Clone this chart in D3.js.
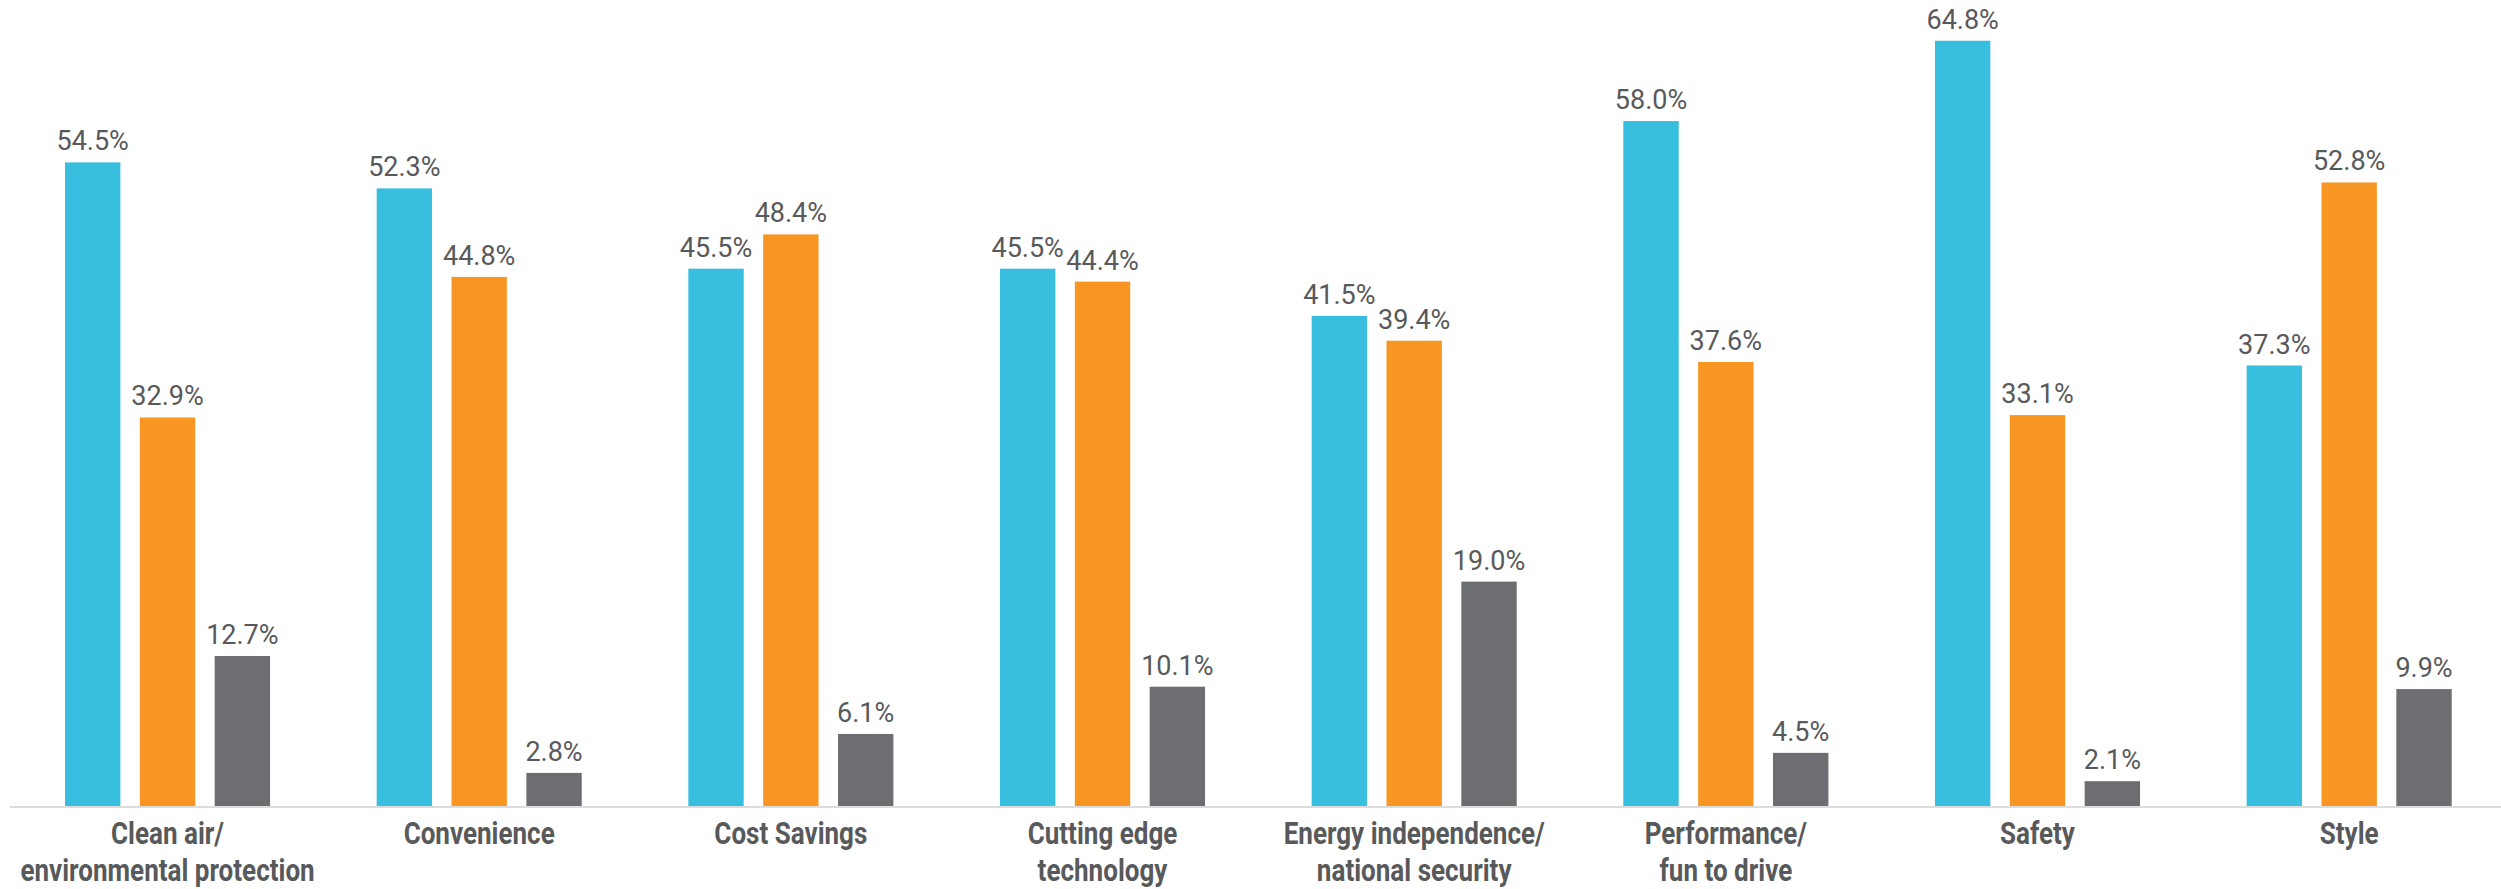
<!DOCTYPE html>
<html>
<head>
<meta charset="utf-8">
<script src="https://cdn.jsdelivr.net/npm/d3@7"></script>
<style>
  html, body { margin: 0; padding: 0; background: #ffffff; }
  svg { display: block; }
</style>
</head>
<body>
<svg id="chart" width="2501" height="889"></svg>
<script>
// ---- data ----
const categories = [
  "Clean air/ environmental protection",
  "Convenience",
  "Cost Savings",
  "Cutting edge technology",
  "Energy independence/ national security",
  "Performance/ fun to drive",
  "Safety",
  "Style"
];
const categoryLines = [
  ["Clean air/", "environmental protection"],
  ["Convenience"],
  ["Cost Savings"],
  ["Cutting edge", "technology"],
  ["Energy independence/", "national security"],
  ["Performance/", "fun to drive"],
  ["Safety"],
  ["Style"]
];
const seriesNames = ["Series 1", "Series 2", "Series 3"];
const series1 = [54.5, 52.3, 45.5, 45.5, 41.5, 58.0, 64.8, 37.3];
const series2 = [32.9, 44.8, 48.4, 44.4, 39.4, 37.6, 33.1, 52.8];
const series3 = [12.7, 2.8, 6.1, 10.1, 19.0, 4.5, 2.1, 9.9];
const seriesColors = ["#38BEDF", "#F79623", "#6D6E71"];

// ---- layout ----
const W = 2501, H = 889;
const baseY = 806;
const svg = d3.select("#chart");

const allSeries = [series1, series2, series3];
const rows = categories.map((c, i) => ({
  cat: c, idx: i,
  vals: allSeries.map((s, k) => ({ key: seriesNames[k], k, v: s[i] }))
}));

const x0 = d3.scaleBand()
  .domain(categories)
  .range([11.7, 2505])
  .paddingInner(0.342)
  .paddingOuter(0.171);

const x1 = d3.scaleBand()
  .domain(seriesNames)
  .range([0, x0.bandwidth()])
  .paddingInner(0.26)
  .paddingOuter(0);

const y = d3.scaleLinear().domain([0, 68.25]).range([baseY, 0]);

// bars
const groups = svg.append("g").selectAll("g")
  .data(rows).join("g")
  .attr("transform", d => `translate(${x0(d.cat)},0)`);

groups.selectAll("rect")
  .data(d => d.vals).join("rect")
  .attr("x", d => x1(d.key))
  .attr("y", d => y(d.v))
  .attr("width", x1.bandwidth())
  .attr("height", d => y(0) - y(d.v))
  .attr("fill", d => seriesColors[d.k]);

const fmt = d3.format(".1f");
groups.selectAll("text.val")
  .data(d => d.vals).join("text")
  .attr("class", "val")
  .attr("x", d => x1(d.key) + x1.bandwidth() / 2)
  .attr("y", d => y(d.v) - 12)
  .attr("text-anchor", "middle")
  .attr("font-family", "Roboto, 'Noto Sans', sans-serif")
  .attr("font-size", 27)
  .attr("fill", "#58595B")
  .text(d => fmt(d.v) + "%");

// axis baseline
const xAxis = d3.axisBottom(x0).tickSize(0).tickFormat("");
const axisG = svg.append("g")
  .attr("transform", `translate(0,${baseY + 1})`)
  .call(xAxis);
axisG.select(".domain").remove();
axisG.append("line")
  .attr("x1", 10).attr("x2", W)
  .attr("y1", 0).attr("y2", 0)
  .attr("stroke", "#DCDCDC")
  .attr("stroke-width", 2);

// category labels
const labG = svg.append("g").selectAll("g")
  .data(rows).join("g")
  .attr("transform", d => `translate(${x0(d.cat) + x0.bandwidth() / 2},0) scale(0.84,1)`);

labG.selectAll("text")
  .data(d => categoryLines[d.idx]).join("text")
  .attr("x", 0)
  .attr("y", (d, i) => 844 + i * 37)
  .attr("text-anchor", "middle")
  .attr("font-family", "Roboto, 'Noto Sans', sans-serif")
  .attr("font-weight", 700)
  .attr("font-size", 31)
  .attr("fill", "#58595B")
  .text(d => d);
</script>
</body>
</html>
